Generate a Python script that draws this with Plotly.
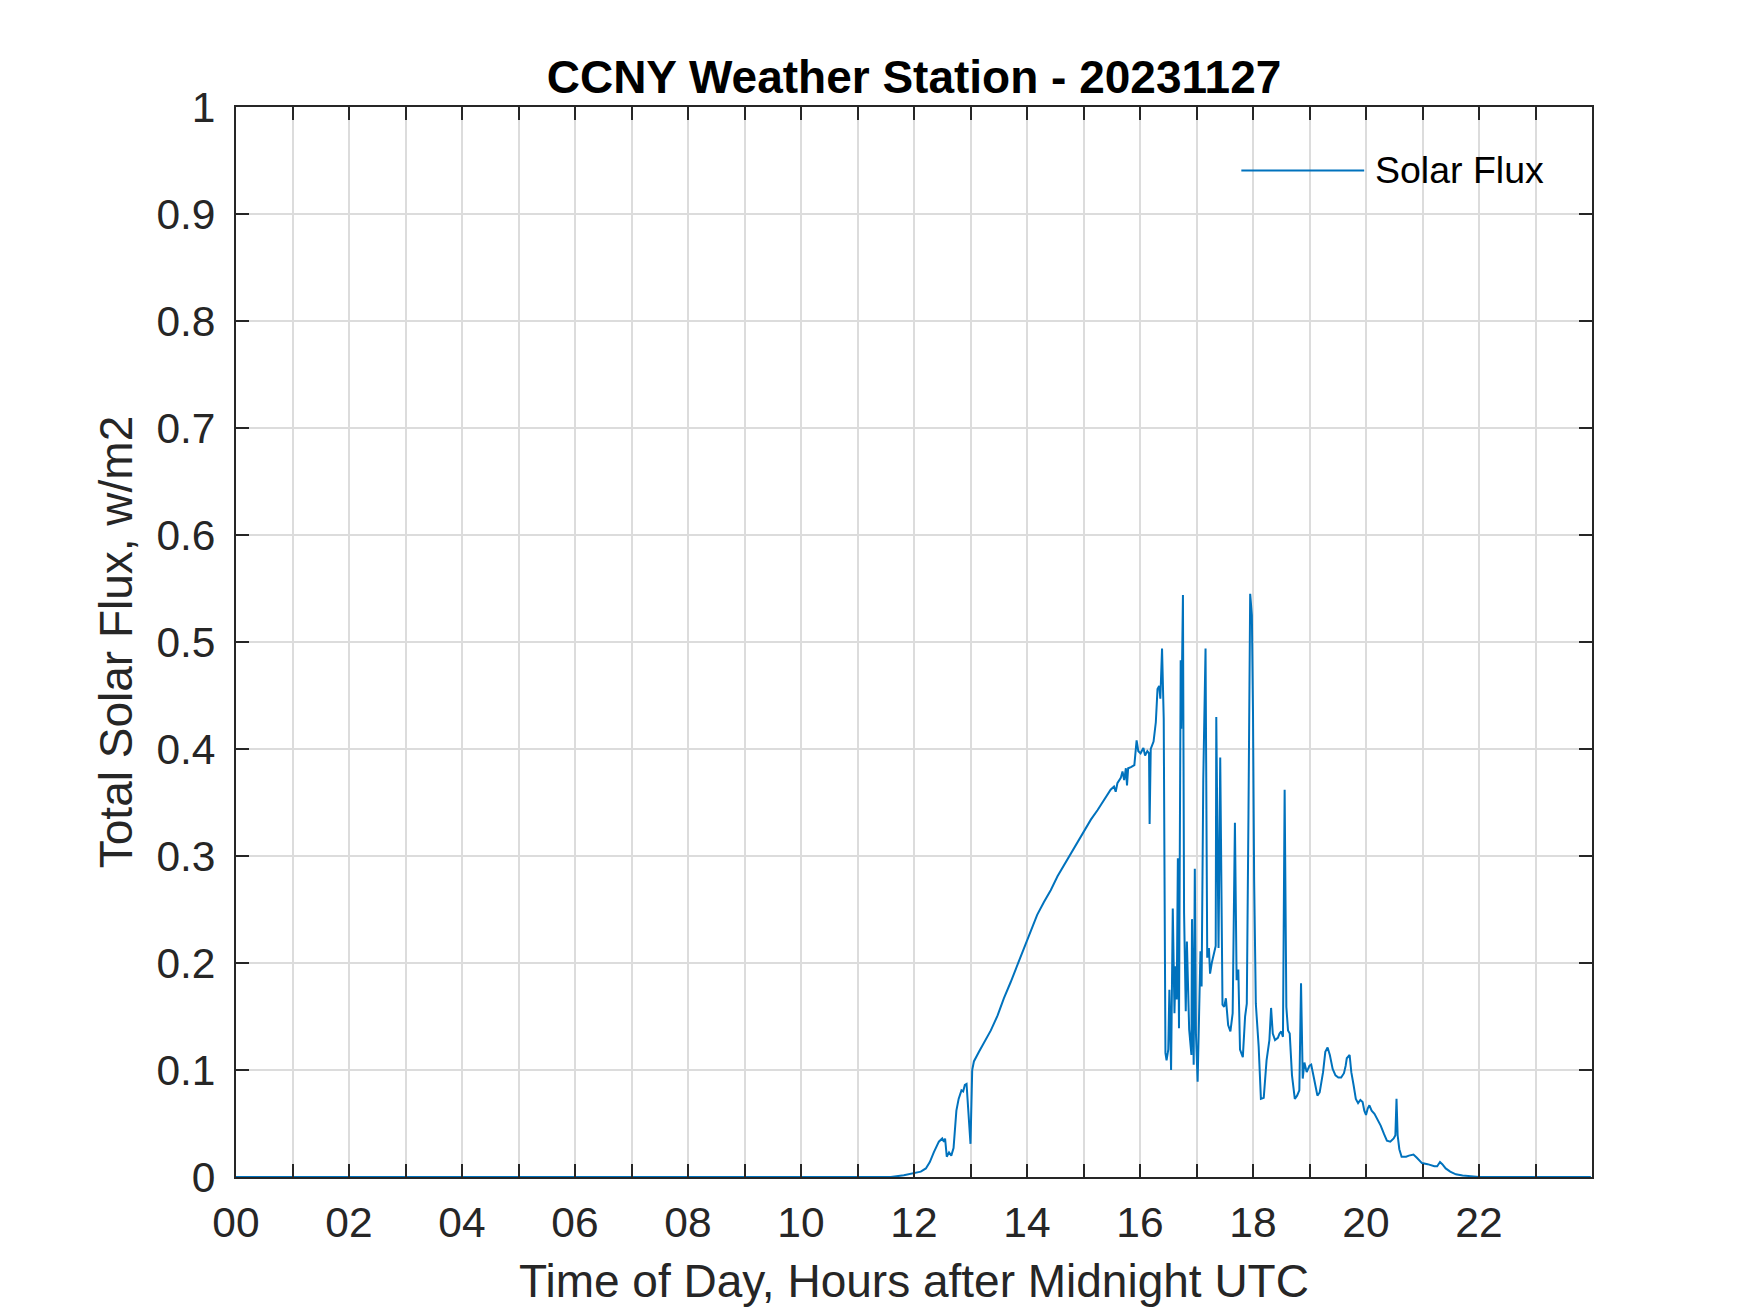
import plotly.graph_objects as go

# Solar flux readings (hours after midnight UTC, W/m2)
hours = [
    0.0, 11.59, 11.82, 12.0, 12.12, 12.21, 12.28, 12.35, 12.44, 12.50, 12.53,
    12.55, 12.58, 12.62, 12.66, 12.70, 12.72, 12.75, 12.79, 12.81, 12.84, 12.87,
    12.90, 12.93, 12.96, 13.00, 13.03, 13.06, 13.15, 13.24, 13.36, 13.48, 13.59,
    13.71, 13.83, 13.95, 14.07, 14.18, 14.30, 14.42, 14.54, 14.66, 14.77, 14.89,
    15.01, 15.13, 15.25, 15.36, 15.48, 15.54, 15.57, 15.60, 15.66, 15.69, 15.72,
    15.75, 15.77, 15.79, 15.84, 15.90, 15.94, 15.97, 16.01, 16.06, 16.09, 16.13,
    16.16, 16.17, 16.19, 16.24, 16.28, 16.31, 16.34, 16.36, 16.39, 16.42, 16.45,
    16.47, 16.50, 16.52, 16.55, 16.58, 16.61, 16.63, 16.65, 16.67, 16.69, 16.72,
    16.73, 16.76, 16.78, 16.81, 16.83, 16.87, 16.91, 16.92, 16.95, 16.97, 16.99,
    17.02, 17.05, 17.07, 17.09, 17.12, 17.16, 17.19, 17.22, 17.24, 17.27, 17.31,
    17.34, 17.35, 17.39, 17.42, 17.46, 17.49, 17.52, 17.56, 17.60, 17.64, 17.68,
    17.71, 17.74, 17.77, 17.82, 17.86, 17.89, 17.92, 17.95, 17.98, 18.00, 18.02,
    18.05, 18.10, 18.14, 18.19, 18.24, 18.29, 18.32, 18.35, 18.39, 18.44, 18.47,
    18.50, 18.53, 18.56, 18.59, 18.62, 18.65, 18.69, 18.74, 18.78, 18.82, 18.85,
    18.88, 18.91, 18.95, 19.00, 19.03, 19.08, 19.14, 19.18, 19.24, 19.28, 19.32,
    19.36, 19.41, 19.46, 19.51, 19.56, 19.61, 19.64, 19.66, 19.71, 19.74, 19.78,
    19.82, 19.86, 19.90, 19.94, 19.97, 20.00, 20.03, 20.06, 20.10, 20.15, 20.21,
    20.26, 20.32, 20.37, 20.43, 20.49, 20.52, 20.54, 20.56, 20.59, 20.63, 20.71,
    20.76, 20.84, 20.90, 20.99, 21.09, 21.21, 21.26, 21.31, 21.35, 21.41, 21.49,
    21.59, 21.71, 21.85, 22.0, 23.98,
]
flux = [
    0.0, 0.0, 0.0016, 0.004, 0.005, 0.008, 0.014, 0.023, 0.033, 0.036, 0.033,
    0.036, 0.019, 0.023, 0.020, 0.027, 0.045, 0.062, 0.073, 0.076, 0.081, 0.080,
    0.086, 0.087, 0.064, 0.031, 0.100, 0.108, 0.117, 0.125, 0.137, 0.151, 0.167,
    0.182, 0.198, 0.215, 0.231, 0.245, 0.257, 0.268, 0.281, 0.292, 0.301, 0.313,
    0.324, 0.334, 0.343, 0.352, 0.362, 0.365, 0.360, 0.368, 0.373, 0.379, 0.371,
    0.382, 0.366, 0.382, 0.383, 0.385, 0.408, 0.398, 0.396, 0.401, 0.394, 0.398,
    0.396, 0.330, 0.400, 0.407, 0.425, 0.456, 0.459, 0.447, 0.494, 0.428, 0.116,
    0.109, 0.119, 0.175, 0.100, 0.251, 0.153, 0.197, 0.166, 0.298, 0.139, 0.483,
    0.419, 0.544, 0.247, 0.155, 0.220, 0.138, 0.114, 0.241, 0.105, 0.288, 0.134,
    0.089, 0.184, 0.211, 0.178, 0.372, 0.494, 0.205, 0.214, 0.190, 0.200, 0.209,
    0.216, 0.430, 0.214, 0.392, 0.161, 0.159, 0.167, 0.142, 0.136, 0.153, 0.331,
    0.184, 0.194, 0.119, 0.112, 0.150, 0.162, 0.340, 0.545, 0.525, 0.434, 0.278,
    0.162, 0.122, 0.073, 0.074, 0.109, 0.128, 0.158, 0.134, 0.128, 0.130, 0.134,
    0.136, 0.131, 0.362, 0.159, 0.137, 0.134, 0.095, 0.073, 0.076, 0.081, 0.181,
    0.092, 0.107, 0.098, 0.104, 0.105, 0.092, 0.076, 0.079, 0.098, 0.117, 0.121,
    0.114, 0.101, 0.095, 0.093, 0.093, 0.097, 0.104, 0.111, 0.114, 0.098, 0.086,
    0.073, 0.069, 0.072, 0.070, 0.062, 0.058, 0.064, 0.067, 0.062, 0.059, 0.053,
    0.048, 0.040, 0.034, 0.033, 0.036, 0.039, 0.073, 0.039, 0.026, 0.019, 0.019,
    0.020, 0.021, 0.018, 0.013, 0.012, 0.010, 0.010, 0.014, 0.012, 0.008, 0.005,
    0.0025, 0.0015, 0.0006, 0.0, 0.0,
]

x_ticks = list(range(0, 24))
x_labels = ["%02d" % h if h % 2 == 0 else "" for h in x_ticks]
y_ticks = [round(0.1 * i, 1) for i in range(11)]
y_labels = ["0", "0.1", "0.2", "0.3", "0.4", "0.5", "0.6", "0.7", "0.8", "0.9", "1"]

FONT = "Liberation Sans, Arial, Helvetica, sans-serif"
AXCOL = "#262626"
LINECOL = "#0072BD"

fig = go.Figure()
fig.add_trace(go.Scatter(x=hours, y=flux, mode="lines", name="Solar Flux",
                         line=dict(color=LINECOL, width=2), showlegend=False))

axis_common = dict(
    showline=True, linecolor=AXCOL, linewidth=2, mirror="ticks",
    ticks="inside", ticklen=13, tickwidth=2, tickcolor=AXCOL,
    showgrid=True, gridcolor="#dcdcdc", gridwidth=1.7, zeroline=False,
    tickfont=dict(family=FONT, size=42.5, color=AXCOL),
)

fig.update_layout(
    width=1750, height=1313,
    margin=dict(l=228, r=166, t=99, b=144),
    paper_bgcolor="white", plot_bgcolor="white",
    title=dict(text="<b>CCNY Weather Station - 20231127</b>",
               x=0.5, xref="paper", xanchor="center",
               y=1, yref="paper", yanchor="bottom", pad=dict(b=14),
               font=dict(family=FONT, size=46, color="black")),
    xaxis=dict(range=[0, 24], tickvals=x_ticks, ticktext=x_labels,
               title=dict(text="Time of Day, Hours after Midnight UTC", standoff=20,
                          font=dict(family=FONT, size=46, color=AXCOL)),
               ticklabelstandoff=7, **axis_common),
    yaxis=dict(range=[0, 1], tickvals=y_ticks, ticktext=y_labels,
               title=dict(text="Total Solar Flux, w/m2", standoff=9,
                          font=dict(family=FONT, size=46, color=AXCOL)),
               ticklabelstandoff=10, **axis_common),
)

# legend drawn by hand (MATLAB style long sample line, no box)
fig.add_shape(type="line", xref="paper", yref="paper",
              x0=0.7414, x1=0.832, y0=0.9407, y1=0.9407,
              line=dict(color=LINECOL, width=2))
fig.add_annotation(text="Solar Flux", xref="paper", yref="paper",
                   x=0.8387, y=0.9407, xanchor="left", yanchor="middle",
                   showarrow=False,
                   font=dict(family=FONT, size=37.5, color="black"))

fig.write_html("out.html")
